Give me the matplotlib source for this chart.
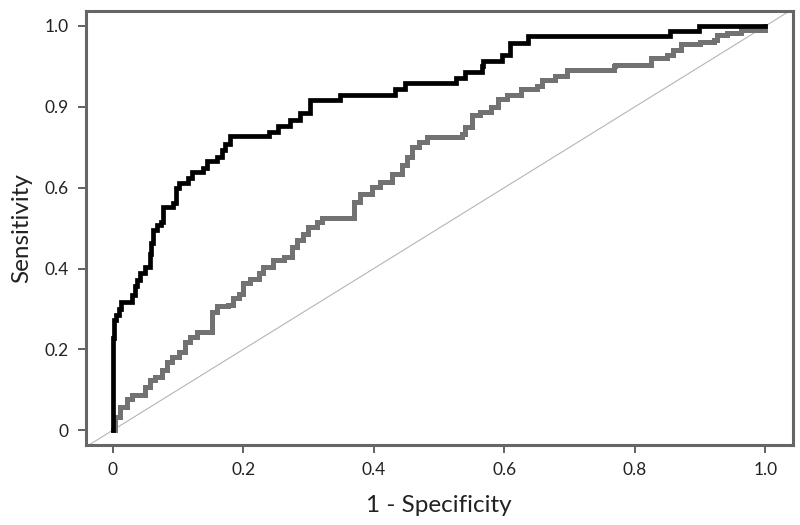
import matplotlib
matplotlib.use("Agg")
import matplotlib.pyplot as plt

# ROC curve corner points (1 - specificity, sensitivity)
black_fpr = [0.000, 0.000, 0.002, 0.005, 0.009, 0.013, 0.029, 0.034, 0.038, 0.042,
             0.050, 0.057, 0.059, 0.062, 0.068, 0.074, 0.077, 0.093, 0.097, 0.101,
             0.116, 0.121, 0.139, 0.144, 0.160, 0.167, 0.172, 0.179, 0.240, 0.254,
             0.272, 0.287, 0.303, 0.349, 0.433, 0.448, 0.526, 0.540, 0.566, 0.568,
             0.596, 0.609, 0.637, 0.854, 0.898, 1.000]
black_tpr = [0.000, 0.227, 0.272, 0.285, 0.300, 0.317, 0.334, 0.358, 0.372, 0.388,
             0.404, 0.437, 0.462, 0.495, 0.507, 0.515, 0.551, 0.561, 0.598, 0.612,
             0.623, 0.639, 0.648, 0.666, 0.676, 0.693, 0.709, 0.727, 0.738, 0.752,
             0.767, 0.785, 0.816, 0.829, 0.843, 0.859, 0.872, 0.886, 0.900, 0.914,
             0.928, 0.957, 0.974, 0.988, 1.000, 1.000]

gray_fpr = [0.000, 0.004, 0.011, 0.022, 0.029, 0.042, 0.050, 0.057, 0.065, 0.075,
            0.083, 0.091, 0.101, 0.111, 0.119, 0.129, 0.144, 0.152, 0.160, 0.177,
            0.185, 0.193, 0.200, 0.211, 0.224, 0.231, 0.246, 0.262, 0.275, 0.282,
            0.292, 0.300, 0.313, 0.321, 0.359, 0.369, 0.379, 0.397, 0.410, 0.428,
            0.443, 0.451, 0.459, 0.469, 0.482, 0.522, 0.535, 0.540, 0.551, 0.563,
            0.579, 0.591, 0.604, 0.625, 0.650, 0.658, 0.678, 0.696, 0.757, 0.768,
            0.770, 0.819, 0.824, 0.849, 0.859, 0.870, 0.900, 0.921, 0.926, 0.941,
            0.962, 0.985, 1.000]
gray_tpr = [0.000, 0.033, 0.058, 0.078, 0.087, 0.088, 0.107, 0.124, 0.132, 0.148,
            0.169, 0.181, 0.194, 0.218, 0.231, 0.243, 0.243, 0.293, 0.307, 0.309,
            0.326, 0.338, 0.363, 0.375, 0.388, 0.404, 0.420, 0.429, 0.453, 0.470,
            0.486, 0.503, 0.515, 0.526, 0.526, 0.565, 0.585, 0.602, 0.615, 0.635,
            0.655, 0.676, 0.701, 0.714, 0.726, 0.726, 0.734, 0.750, 0.779, 0.787,
            0.800, 0.820, 0.829, 0.845, 0.851, 0.866, 0.876, 0.891, 0.891, 0.900,
            0.904, 0.904, 0.920, 0.928, 0.941, 0.955, 0.961, 0.965, 0.977, 0.983,
            0.990, 0.991, 1.000]

yticks = [0.0, 0.2, 0.4, 0.6, 0.8, 1.0]
ytick_labels = ['0', '0.2', '0.4', '0.6', '0.9', '1.0']
xticks = [0.0, 0.2, 0.4, 0.6, 0.8, 1.0]
xtick_labels = ['0', '0.2', '0.4', '0.6', '0.8', '1.0']

plt.rcParams['font.family'] = ['Lato', 'DejaVu Sans']

fig = plt.figure(figsize=(8, 5.25), dpi=100)
ax = fig.add_axes([0.107, 0.152, 0.884, 0.827])

# reference diagonal
ax.axline((0, 0), (1, 1), color='#b5b5b5', lw=0.8, zorder=1)

ax.plot(gray_fpr, gray_tpr, drawstyle='steps-post', color='#727272', lw=3.6,
        solid_joinstyle='miter', zorder=2)
ax.plot(black_fpr, black_tpr, drawstyle='steps-post', color='black', lw=3.4,
        solid_joinstyle='miter', zorder=3)

ax.set_xlim(-0.0415, 1.042)
ax.set_ylim(-0.037, 1.037)

ax.set_xticks(xticks)
ax.set_xticklabels(xtick_labels)
ax.set_yticks(yticks)
ax.set_yticklabels(ytick_labels)

for s in ax.spines.values():
    s.set_color('#666666')
    s.set_linewidth(2.2)
ax.tick_params(direction='out', length=6, width=1.3, color='#555555',
               labelsize=12.5, labelcolor='#222222', pad=6)

ax.set_xlabel('1 - Specificity', fontsize=17.5, color='#222222', labelpad=12)
ax.set_ylabel('Sensitivity', fontsize=17.5, color='#222222', labelpad=9)

fig.savefig('out.png', dpi=100)
